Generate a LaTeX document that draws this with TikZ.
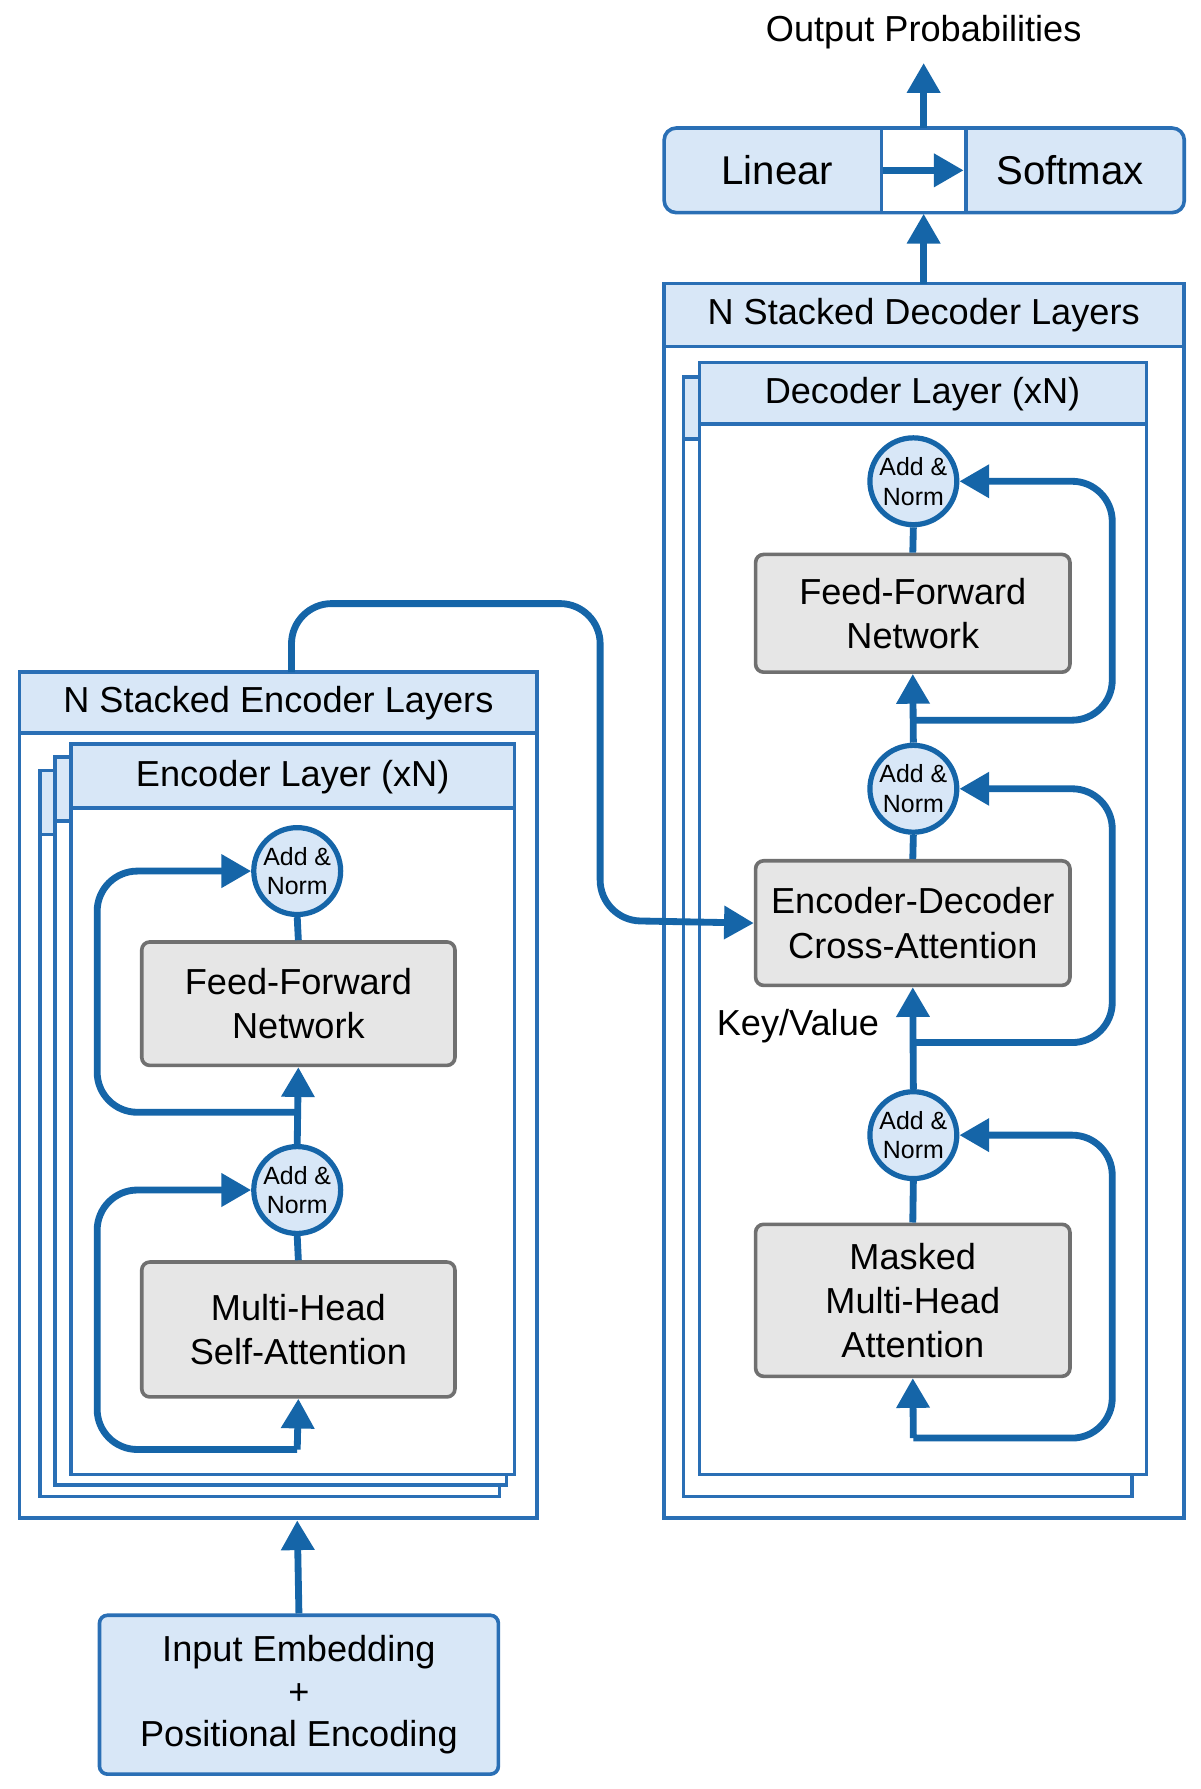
\documentclass[tikz,border=0pt]{standalone}
\usepackage{fontspec}
\setmainfont{Liberation Sans}
\usetikzlibrary{arrows.meta}
\definecolor{bl}{HTML}{1565A8}
\definecolor{fr}{HTML}{2A6FB5}
\definecolor{lb}{HTML}{D8E7F7}
\definecolor{gf}{HTML}{E6E6E6}
\definecolor{gb}{HTML}{707070}
\begin{document}
\begin{tikzpicture}[x=0.1mm,y=-0.1mm,
  frame/.style={draw=fr,line width=0.9pt,fill=white},
  head/.style={draw=fr,line width=0.9pt,fill=lb},
  htext/.style={font=\fontsize{9}{11}\selectfont},
  gbox/.style={draw=gb,fill=gf,line width=0.9pt,rounded corners=2pt,align=center,font=\fontsize{9}{11}\selectfont,inner sep=0pt},
  bbox/.style={draw=fr,fill=lb,line width=0.9pt,rounded corners=2pt,align=center,font=\fontsize{9}{10.5}\selectfont,inner sep=0pt},
  an/.style={circle,draw=bl,fill=lb,line width=1.3pt,minimum size=7.6mm,inner sep=0pt,align=center,font=\fontsize{6.2}{7.4}\selectfont},
  con/.style={draw=bl,line width=1.7pt,rounded corners=10},
  arr/.style={con,-{Triangle[length=2.6mm,width=2.8mm]}}]
\useasboundingbox (0,0) rectangle (1050,1565);
% ---------- Encoder ----------
\draw[frame] (17,588) rectangle (470,1328);
\draw[head] (17,588) rectangle (470,641);
\node[htext] (enchead) at (243.5,615) {N Stacked Encoder Layers};
\draw[frame] (35,674) rectangle (437,1309);
\draw[head] (35,674) rectangle (437,730);
\draw[frame] (48,662) rectangle (443,1299);
\draw[head] (48,662) rectangle (443,718);
\draw[frame] (62,651) rectangle (450,1290);
\draw[head] (62,651) rectangle (450,707);
\node[htext] (enclayer) at (256,680) {Encoder Layer (xN)};
\node[an] (ean2) at (260,762) {Add \&\\Norm};
\node[an] (ean1) at (260,1041) {Add \&\\Norm};
\node[gbox,minimum width=27.4mm,minimum height=10.8mm] (effn) at (261,878) {Feed-Forward\\Network};
\node[gbox,minimum width=27.4mm,minimum height=11.8mm] (emha) at (261,1163) {Multi-Head\\Self-Attention};
\node[bbox,minimum width=34.9mm,minimum height=13.9mm] (inp) at (261.5,1482.5) {Input Embedding\\+\\Positional Encoding};
\coordinate (encbot) at (260,1330);
\coordinate (enctop) at (255,588);
\draw[arr] (inp.north) -- (encbot);
\draw[con] (emha.north) -- (ean1.south);
\draw[arr] (ean1.north) -- (effn.south);
\draw[con] (effn.north) -- (ean2.south);
\coordinate (el1) at (85,1041);
\draw[arr] (260,1268) -- (emha.south);
\draw[arr] (260,1268) -- (85,1268) -- (el1) -- (ean1.west);
\draw[arr] (260,973) -- (85,973) -- (85,762) -- (ean2.west);
% ---------- Decoder ----------
\draw[frame] (581,248) rectangle (1036,1328);
\draw[head] (581,248) rectangle (1036,303);
\node[htext] (dechead) at (808,276) {N Stacked Decoder Layers};
\draw[frame] (598,330) rectangle (990,1309);
\draw[head] (598,330) rectangle (990,384);
\draw[frame] (612,317) rectangle (1003,1290);
\draw[head] (612,317) rectangle (1003,371);
\node[htext] (declayer) at (807,345) {Decoder Layer (xN)};
\node[an] (dan3) at (799,421) {Add \&\\Norm};
\node[an] (dan2) at (799,690) {Add \&\\Norm};
\node[an] (dan1) at (799,993) {Add \&\\Norm};
\node[gbox,minimum width=27.5mm,minimum height=10.3mm] (dffn) at (798.5,536.5) {Feed-Forward\\Network};
\node[gbox,minimum width=27.5mm,minimum height=10.9mm] (cross) at (798.5,807.5) {Encoder-Decoder\\Cross-Attention};
\node[gbox,minimum width=27.5mm,minimum height=13.3mm] (mask) at (798.5,1137.5) {Masked\\Multi-Head\\Attention};
\node[htext] (kv) at (698,898) {Key/Value};
\draw[con] (mask.north) -- (dan1.south);
\draw[arr] (dan1.north) -- (cross.south);
\draw[con] (cross.north) -- (dan2.south);
\draw[arr] (dan2.north) -- (dffn.south);
\draw[con] (dffn.north) -- (dan3.south);
\draw[arr] (799,1258) -- (mask.south);
\draw[arr] (799,1258) -- (973,1258) -- (973,993) -- (dan1.east);
\draw[arr] (799,912) -- (973,912) -- (973,690) -- (dan2.east);
\draw[arr] (799,630) -- (973,630) -- (973,421) -- (dan3.east);
% encoder -> cross attention
\draw[arr] (enctop) -- (255,528) -- (525,528) -- (525,805) -- (cross.west);
% ---------- Output ----------
\draw[draw=fr,line width=0.9pt,fill=lb,rounded corners=3pt] (581,112) rectangle (1036,186);
\draw[draw=fr,line width=0.9pt,fill=white] (771,112) rectangle (845,186);
\node[htext,font=\fontsize{10}{12}\selectfont] (lin) at (680,149) {Linear};
\node[htext,font=\fontsize{10}{12}\selectfont] (soft) at (936,149) {Softmax};
\coordinate (mida) at (772,149);
\coordinate (midb) at (843,149);
\draw[arr] (mida) -- (midb);
\coordinate (dectop) at (808,248);
\coordinate (outbot) at (808,187);
\coordinate (outtop) at (808,112);
\node[htext] (outp) at (808,28) {Output Probabilities};
\draw[arr] (dectop) -- (outbot);
\draw[arr] (outtop) -- (outp.south);
\end{tikzpicture}
\end{document}
